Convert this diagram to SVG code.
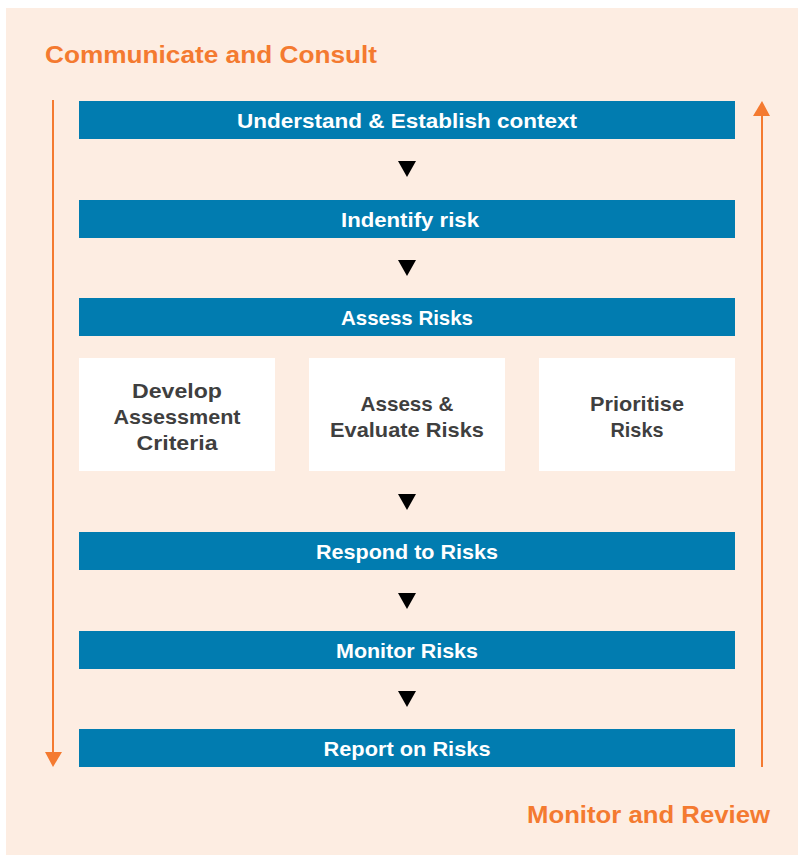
<svg xmlns="http://www.w3.org/2000/svg" width="798" height="855" viewBox="0 0 798 855">
<style>
.bar{fill:#017CB0}
.bt{font-family:"Liberation Sans",Arial,sans-serif;font-weight:bold;font-size:21px;fill:#ffffff;text-anchor:middle}
.box{fill:#ffffff}
.xt{font-family:"Liberation Sans",Arial,sans-serif;font-weight:bold;font-size:21px;fill:#3f3f3f;text-anchor:middle}
.ot{font-family:"Liberation Sans",Arial,sans-serif;font-weight:bold;font-size:23px;fill:#F47A30}
.tri{fill:#000000}
.ol{stroke:#F47A30;stroke-width:2;fill:none}
</style>
<rect x="6" y="8" width="792" height="847" fill="#FDEDE2"/>
<text class="ot" x="45" y="63" textLength="332" lengthAdjust="spacingAndGlyphs">Communicate and Consult</text>
<text class="ot" x="527" y="823" textLength="243" lengthAdjust="spacingAndGlyphs">Monitor and Review</text>
<g id="connectors">
<line class="ol" x1="53" y1="100" x2="53" y2="754"/>
<polygon points="45,752 62,752 53,767" fill="#F47A30"/>
<line class="ol" x1="762" y1="767" x2="762" y2="114"/>
<polygon points="753,116 770,116 762,101" fill="#F47A30"/>
<polygon class="tri" points="398,161 416,161 407,177"/>
<polygon class="tri" points="398,260 416,260 407,276"/>
<polygon class="tri" points="398,494 416,494 407,510"/>
<polygon class="tri" points="398,593 416,593 407,609"/>
<polygon class="tri" points="398,691 416,691 407,707"/>
</g>
<g id="n1"><rect class="bar" x="79" y="101" width="656" height="38"/><text class="bt" x="407" y="128" textLength="340" lengthAdjust="spacingAndGlyphs">Understand &amp; Establish context</text></g>
<g id="n2"><rect class="bar" x="79" y="200" width="656" height="38"/><text class="bt" x="410" y="227" textLength="138" lengthAdjust="spacingAndGlyphs">Indentify risk</text></g>
<g id="n3"><rect class="bar" x="79" y="298" width="656" height="38"/><text class="bt" x="407" y="325" textLength="132" lengthAdjust="spacingAndGlyphs">Assess Risks</text></g>
<g id="n4"><rect class="box" x="79" y="358" width="196" height="113"/><text class="xt" x="177" y="398" textLength="90" lengthAdjust="spacingAndGlyphs">Develop</text><text class="xt" x="177" y="424" textLength="127" lengthAdjust="spacingAndGlyphs">Assessment</text><text class="xt" x="177" y="450" textLength="81" lengthAdjust="spacingAndGlyphs">Criteria</text></g>
<g id="n5"><rect class="box" x="309" y="358" width="196" height="113"/><text class="xt" x="407" y="411" textLength="93" lengthAdjust="spacingAndGlyphs">Assess &amp;</text><text class="xt" x="407" y="437" textLength="154" lengthAdjust="spacingAndGlyphs">Evaluate Risks</text></g>
<g id="n6"><rect class="box" x="539" y="358" width="196" height="113"/><text class="xt" x="637" y="411" textLength="94" lengthAdjust="spacingAndGlyphs">Prioritise</text><text class="xt" x="637" y="437" textLength="53" lengthAdjust="spacingAndGlyphs">Risks</text></g>
<g id="n7"><rect class="bar" x="79" y="532" width="656" height="38"/><text class="bt" x="407" y="559" textLength="182" lengthAdjust="spacingAndGlyphs">Respond to Risks</text></g>
<g id="n8"><rect class="bar" x="79" y="631" width="656" height="38"/><text class="bt" x="407" y="658" textLength="142" lengthAdjust="spacingAndGlyphs">Monitor Risks</text></g>
<g id="n9"><rect class="bar" x="79" y="729" width="656" height="38"/><text class="bt" x="407" y="756" textLength="167" lengthAdjust="spacingAndGlyphs">Report on Risks</text></g>
</svg>
